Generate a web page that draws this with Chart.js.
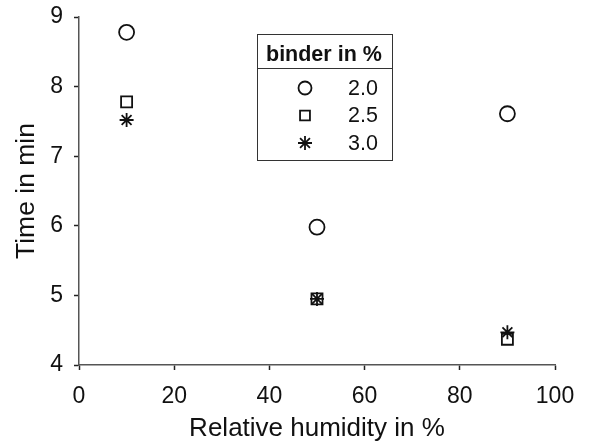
<!DOCTYPE html>
<html>
<head>
<meta charset="utf-8">
<script src="https://cdn.jsdelivr.net/npm/chart.js@4/dist/chart.umd.min.js"></script>
<style>
  html, body { margin: 0; padding: 0; background: #fff; }
  #wrap { width: 602px; height: 444px; }
</style>
</head>
<body>
<div id="wrap"><canvas id="myChart"></canvas></div>
<script>
// relative humidity (x) and time (y) for each binder content
const humidity = [10, 50, 90];
const time20 = [8.78, 5.98, 7.61];
const time25 = [7.78, 4.95, 4.37];
const time30 = [7.52, 4.95, 4.47];
const binderLabels = ['2.0', '2.5', '3.0'];
const xTicks = [0, 20, 40, 60, 80, 100];
const yTicks = [4, 5, 6, 7, 8, 9];

const FONT = "'Liberation Sans', Arial, sans-serif";

function pts(ys) {
    return humidity.map((x, i) => ({ x: x, y: ys[i] }));
}

// legend box drawn inside the plot, like the original figure
const binderLegend = {
    id: 'binderLegend',
    afterDraw(chart) {
        const ctx = chart.ctx;
        const x0 = 257, y0 = 34, w = 135, h = 126, headH = 34;
        ctx.save();
        ctx.fillStyle = '#fff';
        ctx.fillRect(x0, y0, w, h);
        ctx.strokeStyle = '#333';
        ctx.lineWidth = 1;
        ctx.strokeRect(x0 + 0.5, y0 + 0.5, w, h);
        ctx.beginPath();
        ctx.moveTo(x0, y0 + headH + 0.5);
        ctx.lineTo(x0 + w, y0 + headH + 0.5);
        ctx.stroke();
        ctx.fillStyle = '#111';
        ctx.font = 'bold 21.5px ' + FONT;
        ctx.textBaseline = 'middle';
        ctx.textAlign = 'left';
        ctx.fillText('binder in %', x0 + 9, y0 + 21);
        ctx.font = '21.5px ' + FONT;
        chart.data.datasets.forEach((ds, i) => {
            const cy = y0 + 54 + i * 27.5;
            ctx.strokeStyle = '#111';
            ctx.fillStyle = 'rgba(255,255,255,0)';
            ctx.lineWidth = ds.borderWidth;
            Chart.helpers.drawPoint(ctx, {
                pointStyle: ds.pointStyle,
                radius: ds.legendRadius,
                rotation: 0,
                borderWidth: ds.borderWidth
            }, x0 + 48, cy);
            ctx.fillStyle = '#111';
            ctx.fillText(ds.label, x0 + 91, cy + 1);
        });
        ctx.restore();
    }
};

new Chart(document.getElementById('myChart'), {
    type: 'scatter',
    data: {
        datasets: [
            { label: binderLabels[0], data: pts(time20), pointStyle: 'circle', pointRadius: 7.5, legendRadius: 6.5,
              borderColor: '#111', backgroundColor: 'rgba(255,255,255,0)', borderWidth: 1.8 },
            { label: binderLabels[1], data: pts(time25), pointStyle: 'rect', pointRadius: 7.8, legendRadius: 7,
              borderColor: '#111', backgroundColor: 'rgba(255,255,255,0)', borderWidth: 1.8 },
            { label: binderLabels[2], data: pts(time30), pointStyle: 'star', pointRadius: 7, legendRadius: 7,
              borderColor: '#111', backgroundColor: 'rgba(255,255,255,0)', borderWidth: 1.8 }
        ]
    },
    options: {
        responsive: true,
        maintainAspectRatio: false,
        animation: false,
        layout: { padding: { left: 0, right: 47, top: 17, bottom: 0 } },
        plugins: {
            legend: { display: false },
            tooltip: { enabled: false }
        },
        scales: {
            x: {
                type: 'linear',
                min: 0, max: 100,
                afterBuildTicks: axis => { axis.ticks = xTicks.map(v => ({ value: v })); },
                afterFit: axis => { axis.height = 79; },
                grid: { drawOnChartArea: false, tickLength: 5, tickColor: '#222', tickWidth: 1.5 },
                border: { color: '#555', width: 1.5 },
                ticks: { color: '#111', font: { family: FONT, size: 23 }, padding: 13 },
                title: { display: true, text: 'Relative humidity in %', color: '#111',
                         font: { family: FONT, size: 26 }, padding: { top: 0, bottom: 0 } }
            },
            y: {
                type: 'linear',
                min: 4, max: 9,
                afterBuildTicks: axis => { axis.ticks = yTicks.map(v => ({ value: v })); },
                afterFit: axis => { axis.width = 79; axis.paddingTop = 0; axis.paddingBottom = 0; },
                grid: { drawOnChartArea: false, tickLength: 5, tickColor: '#222', tickWidth: 1.5 },
                border: { color: '#555', width: 1.5 },
                ticks: { color: '#111', font: { family: FONT, size: 23 }, padding: 11 },
                title: { display: true, text: 'Time in min', color: '#111',
                         font: { family: FONT, size: 26.5 }, padding: { top: 11, bottom: 0 } }
            }
        }
    },
    plugins: [binderLegend]
});
</script>
</body>
</html>
